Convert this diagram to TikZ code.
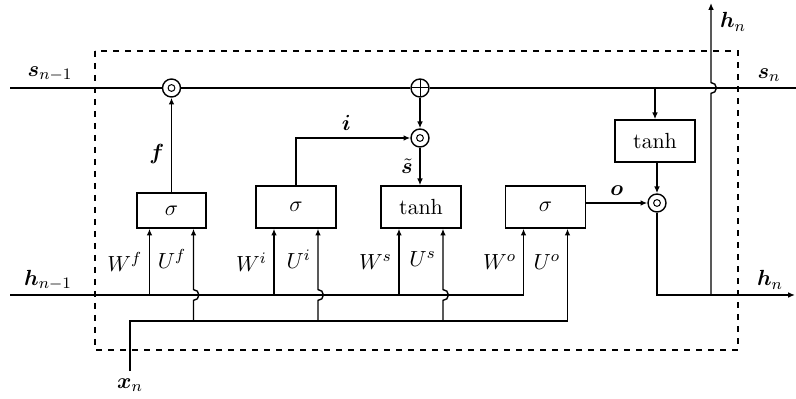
\documentclass[tikz,border=0pt]{standalone}
\usepackage{amsmath}
\usepackage{bm}
\usetikzlibrary{arrows.meta}

\begin{document}
\begin{tikzpicture}[
  x=0.5pt,y=-0.5pt,
  line width=0.7pt,
  every node/.style={font=\fontsize{11}{13}\selectfont},
  box/.style={draw,minimum width=40pt,minimum height=21pt,inner sep=0pt},
  smallbox/.style={box,minimum width=34.5pt,minimum height=17.5pt},
  mulop/.style={draw,circle,minimum size=9pt,inner sep=0pt,
    path picture={\draw[line width=0.5pt] (path picture bounding box.center) circle (1.7pt);}},
  addop/.style={draw,circle,minimum size=9pt,inner sep=0pt,
    path picture={\draw[line width=0.5pt] (path picture bounding box.north) -- (path picture bounding box.south)
      (path picture bounding box.west) -- (path picture bounding box.east);}},
  arr/.style={-{Latex[length=3.4pt,width=2.8pt]}},
  jump/.style={insert path={arc[start angle=-90,end angle=90,radius=2.7pt]}}
]
\useasboundingbox (0,0) rectangle (796,399);
\draw[dashed] (95,51) rectangle (738,350);

\node[smallbox] (sgf) at (171.5,210.5) {$\sigma$};
\node[box] (sgi) at (296,207) {$\sigma$};
\node[box] (tnh) at (421,207) {$\tanh$};
\node[box] (sgo) at (545.5,207) {$\sigma$};
\node[box] (tnho) at (655,141) {$\tanh$};

\node[mulop] (fmul) at (171.5,88) {};
\node[addop] (add) at (420,88) {};
\node[mulop] (imul) at (420,138) {};
\node[mulop] (omul) at (657,203) {};

\coordinate (sin) at (10,88);
\coordinate (sout) at (796,88);
\coordinate (hin) at (10,295);
\coordinate (hout) at (795,295);
\coordinate (hsplit) at (711,295);
\coordinate (hup) at (711,3);
\coordinate (xrow) at (130,321);

\node (lsin) at (50,74) {$\bm{s}_{n-1}$};
\node (lsout) at (769,75) {$\bm{s}_n$};
\node (lhin) at (48,280) {$\bm{h}_{n-1}$};
\node (lhout) at (770,280) {$\bm{h}_n$};
\node (lhup) at (733,22) {$\bm{h}_n$};
\node (xn) at (130,385) {$\bm{x}_n$};

\foreach \g/\k in {sgf/f,sgi/i,tnh/s,sgo/o} {
  \coordinate (w\k) at ([xshift=-11pt]\g.south);
  \coordinate (u\k) at ([xshift=11pt]\g.south);
}

\draw (sin) -- (fmul) -- (add) -- (sout);
\draw[arr] (sgf) -- node[left,pos=0.4] {$\bm{f}$} (fmul);
\draw[arr] (sgi) |- node[above,pos=0.72] {$\bm{i}$} (imul);
\draw[arr] (add) -- (imul);
\draw[arr] (imul) -- node[left] {$\tilde{\bm{s}}$} (tnh.north -| imul);
\draw[arr] (sgo.east |- omul) -- node[above] {$\bm{o}$} (omul);
\draw[arr] (add -| tnho) -- (tnho);
\draw[arr] (tnho.south -| omul) -- (omul);
\draw[arr] (omul) |- (hout);
\draw[arr] (hsplit) -- ([yshift=-2.7pt]hsplit |- sin) [jump] -- (hup);

\draw[arr] (hin) -| node[left,pos=0.75] {$W^o$} (wo);
\foreach \k in {f,i,s}
  \draw[arr] (w\k |- hin) -- node[left] {$W^\k$} (w\k);
\foreach \k in {f,i,s}
  \draw[arr] (u\k |- xrow) -- ([yshift=-2.7pt]u\k |- hin) [jump] -- node[left] {$U^\k$} (u\k);
\draw[arr] (xn) -- (xrow) -| node[left,pos=0.82] {$U^o$} (uo);
\end{tikzpicture}
\end{document}
